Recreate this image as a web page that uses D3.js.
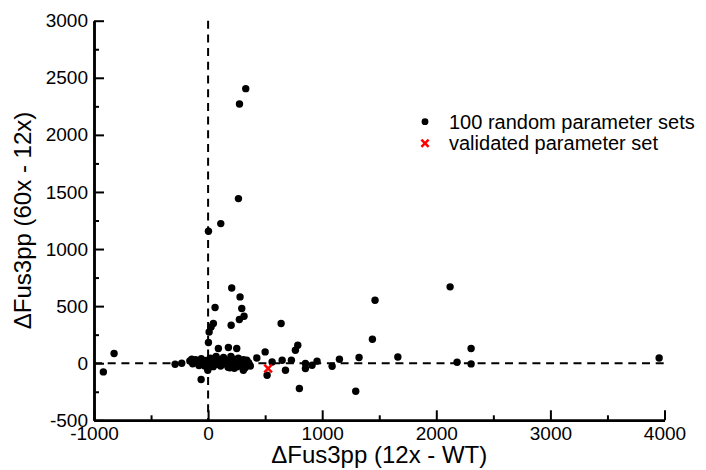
<!DOCTYPE html>
<html>
<head>
<meta charset="utf-8">
<script src="https://cdnjs.cloudflare.com/ajax/libs/d3/7.8.5/d3.min.js"></script>
<style>
  body { margin: 0; background: #fff; }
  text { font-family: "Liberation Sans", Arial, Helvetica, sans-serif; fill: #000; }
</style>
</head>
<body>
<div id="chart"></div>
<script>

/////////////////////////////////////////////////////////////////////////////
                      ///////    Data    ///////
/////////////////////////////////////////////////////////////////////////////

// 100 random parameter sets
var randomX = [
  -918, -824, -289, -231, -143, -114, -61, -3,
  330, 275, 266, 111, 3, 207, 280, 61, 295, 315, 274, 46, 26, 202, 9, 3, 90, 178, 251,
  339, 427, 309, 500, 561, 517, 649, 730, 678, 765, 786, 853, 853, 911, 955,
  1087, 1151, 1294, 1323, 1440, 1463, 1663, 2121, 2182, 2305, 2305, 3953, 800, 640,
  -160, -135, -110, -95, -80, -60, -45, -30, -15, 0, 10, 20, 30, 45, 55, 70, 80, 95, 110,
  120, 135, 150, 160, 175, 185, 200, 215, 225, 240, 255, 265, 280, 295, 310, 325, 340, 355, 370,
  -20, 60, 190, 300, 140, 230
];
var randomY = [
  -76, 85, -9, 0, 35, 6, -143, -61,
  2405, 2270, 1442, 1223, 1156, 659, 581, 488, 479, 412, 383, 348, 318, 333, 274, 181, 129, 137, 129,
  26, 46, -61, 99, 11, -105, 26, 26, -61, 114, 158, -3, -46, -18, 18,
  -26, 35, -245, 50, 210, 552, 55, 669, 9, 129, -6, 46, -222, 348,
  20, -5, 30, 10, -20, 40, 5, -25, 25, 10, -15, 45, 0, -30, 20, 60, -10, 30, -25,
  15, 50, -5, 25, -35, 10, 60, -15, 35, 0, -30, 45, 15, -20, 30, -40, -10, 5, -25,
  -5, -5, -40, 5, 15, -45
];

// validated parameter set
var validatedX = [526];
var validatedY = [-46];

var xTicks = [-1000, 0, 1000, 2000, 3000, 4000];
var xMinorTicks = [-500, 500, 1500, 2500, 3500];
var yTicks = [-500, 0, 500, 1000, 1500, 2000, 2500, 3000];
var yMinorTicks = [-250, 250, 750, 1250, 1750, 2250, 2750];

var legendLabels = ["100 random parameter sets", "validated parameter set"];
var xTitle = "\u0394Fus3pp (12x - WT)";
var yTitle = "\u0394Fus3pp (60x - 12x)";

/////////////////////////////////////////////////////////////////////////////
                      ///////    Layout    ///////
/////////////////////////////////////////////////////////////////////////////

var w = 706, h = 470;
var plotLeft = 94, plotRight = 664.5, plotTop = 20.7, plotBottom = 420.3;
var dotRadius = 3.7;

var svg = d3.select("#chart").append("svg").attr("width", w).attr("height", h);

var x = d3.scaleLinear().domain([-1000, 4000]).range([plotLeft, plotRight]);
var y = d3.scaleLinear().domain([-500, 3000]).range([plotBottom, plotTop]);

// plain hyphen for negatives, like the original
var tickText = d => String(d);

/////////////////////////////////////////////////////////////////////////////
                      ///////    Zero lines    ///////
/////////////////////////////////////////////////////////////////////////////

svg.append("line")
   .attr("x1", x(-1000)).attr("x2", x(4000))
   .attr("y1", y(0)).attr("y2", y(0))
   .attr("stroke", "#000").attr("stroke-width", 2).attr("stroke-dasharray", "8,5.7");

svg.append("line")
   .attr("x1", x(0)).attr("x2", x(0))
   .attr("y1", y(3000)).attr("y2", y(-500))
   .attr("stroke", "#000").attr("stroke-width", 2).attr("stroke-dasharray", "8,5.7");

/////////////////////////////////////////////////////////////////////////////
                      ///////    Axes    ///////
/////////////////////////////////////////////////////////////////////////////

function styleAxis(g) {
    g.select(".domain").attr("stroke", "#000").attr("stroke-width", 2.5);
    g.selectAll(".tick line").attr("stroke", "#000").attr("stroke-width", 2);
    g.selectAll(".tick text").style("font-size", "19px").attr("fill", "#000");
}

svg.append("g")
   .attr("transform", "translate(0," + plotBottom + ")")
   .call(d3.axisBottom(x).tickValues(xMinorTicks).tickSize(-5).tickSizeOuter(0).tickFormat(""))
   .call(styleAxis);

svg.append("g")
   .attr("transform", "translate(0," + plotBottom + ")")
   .call(d3.axisBottom(x).tickValues(xTicks).tickSize(-10).tickSizeOuter(0).tickPadding(6.5).tickFormat(tickText))
   .call(styleAxis);

svg.append("g")
   .attr("transform", "translate(" + plotLeft + ",0)")
   .call(d3.axisLeft(y).tickValues(yMinorTicks).tickSize(-5).tickSizeOuter(0).tickFormat(""))
   .call(styleAxis);

svg.append("g")
   .attr("transform", "translate(" + plotLeft + ",0)")
   .call(d3.axisLeft(y).tickValues(yTicks).tickSize(-10).tickSizeOuter(0).tickPadding(6).tickFormat(tickText))
   .call(styleAxis);

svg.append("text")
   .attr("x", (plotLeft + plotRight) / 2).attr("y", 463)
   .attr("text-anchor", "middle")
   .style("font-size", "24px")
   .text(xTitle);

svg.append("text")
   .attr("transform", "translate(31," + ((plotTop + plotBottom) / 2) + ") rotate(-90)")
   .attr("text-anchor", "middle")
   .style("font-size", "24px")
   .text(yTitle);

/////////////////////////////////////////////////////////////////////////////
                      ///////    Points    ///////
/////////////////////////////////////////////////////////////////////////////

var points = randomX.map((d, i) => ({x: d, y: randomY[i]}));
var validated = validatedX.map((d, i) => ({x: d, y: validatedY[i]}));

svg.append("g").selectAll("circle")
   .data(points)
   .enter().append("circle")
   .attr("cx", d => x(d.x))
   .attr("cy", d => y(d.y))
   .attr("r", dotRadius)
   .attr("fill", "#000");

function cross(sel, s) {
    sel.append("line").attr("x1", -s).attr("y1", -s).attr("x2", s).attr("y2", s);
    sel.append("line").attr("x1", -s).attr("y1", s).attr("x2", s).attr("y2", -s);
    sel.attr("stroke", "#f00").attr("stroke-width", 2.5);
}

svg.append("g").selectAll("g")
   .data(validated)
   .enter().append("g")
   .attr("transform", d => "translate(" + x(d.x) + "," + y(d.y) + ")")
   .call(cross, 3.8);

/////////////////////////////////////////////////////////////////////////////
                      ///////    Legend    ///////
/////////////////////////////////////////////////////////////////////////////

var legend = svg.append("g").attr("transform", "translate(425,121.7)");

legend.append("circle").attr("r", 3.4).attr("fill", "#000");
legend.append("g").attr("transform", "translate(0,21.6)").call(cross, 3.6);

legend.selectAll("text")
   .data(legendLabels)
   .enter().append("text")
   .attr("x", 24)
   .attr("y", (d, i) => i * 21.6 + 7)
   .style("font-size", "20px")
   .text(d => d);

</script>
</body>
</html>
